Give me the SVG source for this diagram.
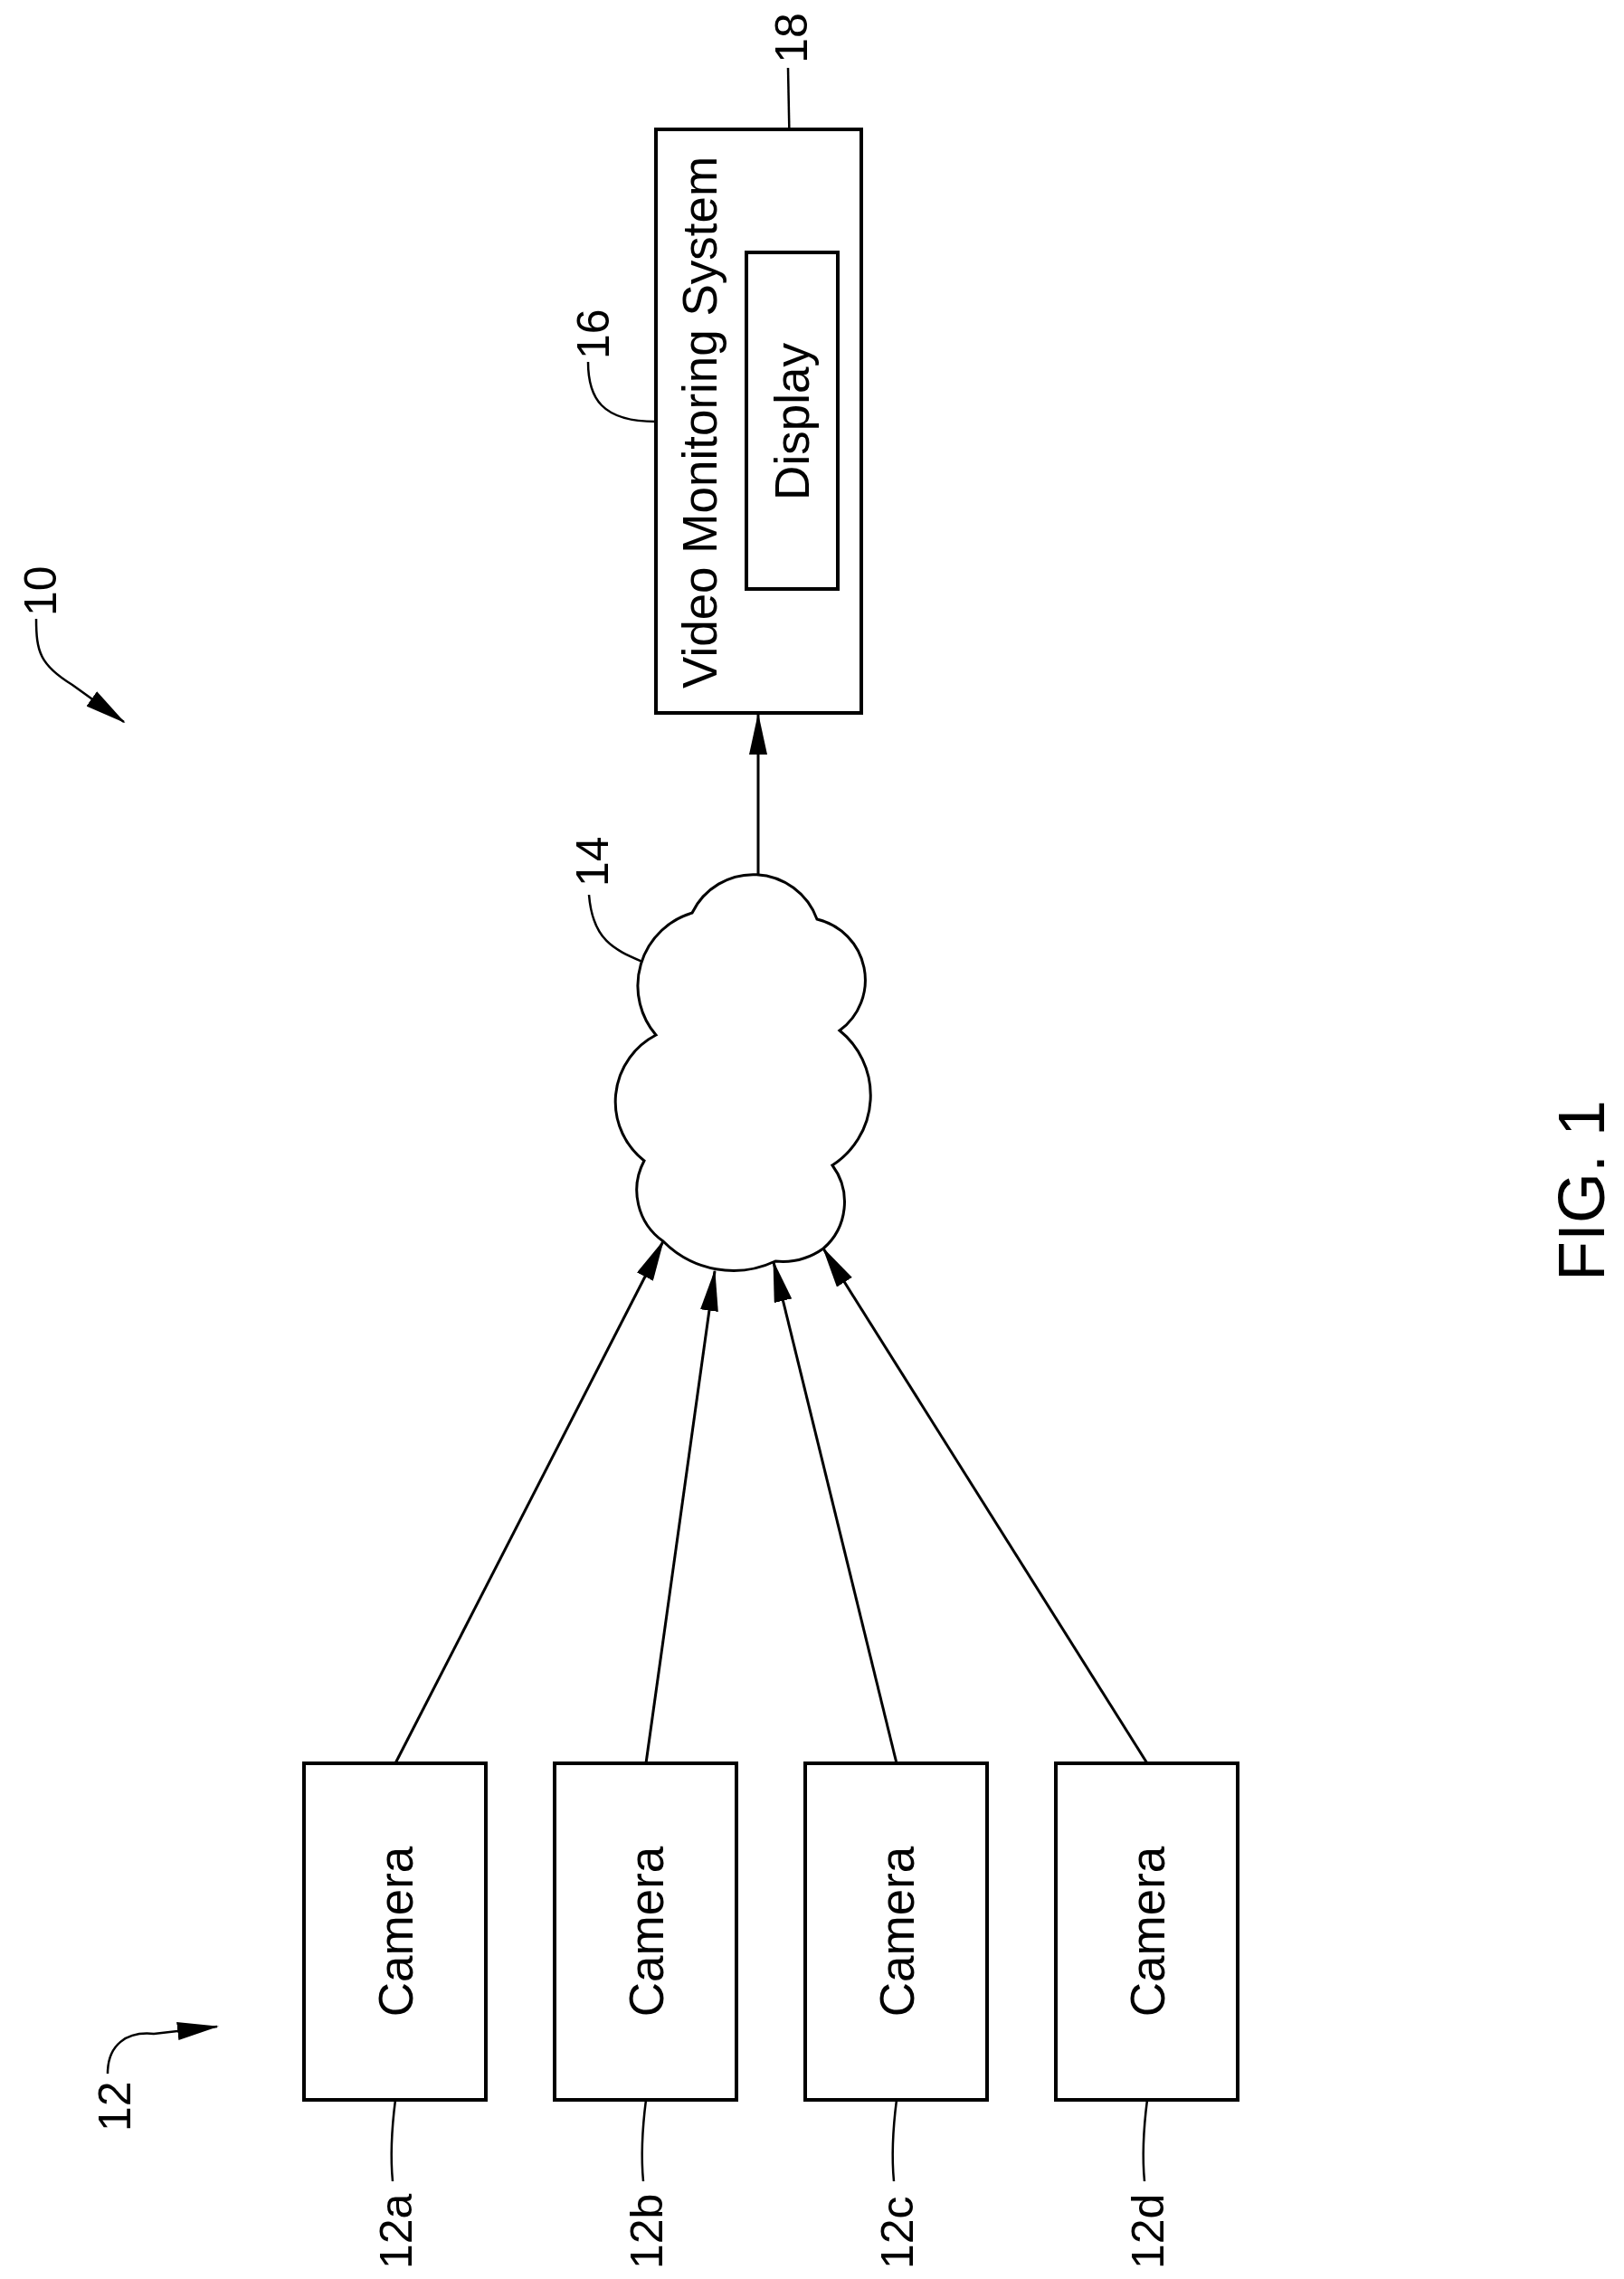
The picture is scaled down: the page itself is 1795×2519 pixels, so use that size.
<svg xmlns="http://www.w3.org/2000/svg" width="1795" height="2519" viewBox="0 0 1795 2519">
<style>
text{font-family:"Liberation Sans",Arial,sans-serif;fill:#000}
.box{fill:#fff;stroke:#000;stroke-width:4}
.ln{fill:none;stroke:#000;stroke-width:3}
.ld{fill:none;stroke:#000;stroke-width:2.5}
.lbl{font-size:50px}
.big{font-size:53px}
</style>
<defs>
<marker id="ah" markerUnits="userSpaceOnUse" markerWidth="46" markerHeight="20" refX="44" refY="10" orient="auto"><path d="M0,0 L46,10 L0,20 Z" fill="#000"/></marker>
</defs>
<rect width="1795" height="2519" fill="#fff"/>
<g id="connectors">
<path class="ln" d="M437,1949 L733,1372" marker-end="url(#ah)"/>
<path class="ln" d="M714,1949 L790,1405" marker-end="url(#ah)"/>
<path class="ln" d="M991,1949 L855,1395" marker-end="url(#ah)"/>
<path class="ln" d="M1268,1949 L910,1380" marker-end="url(#ah)"/>
<path class="ln" d="M838,967 L838,790" marker-end="url(#ah)"/>
<path class="ld" d="M871,75 L875,278" marker-end="url(#ah)"/>
<path class="ld" d="M40,684 C40,720 44,735 80,757 L137,798" marker-end="url(#ah)"/>
<path class="ld" d="M119,2292 C119,2260 140,2245 170,2248 L240,2240" marker-end="url(#ah)"/>
<path class="ld" d="M650,400 C650,440 665,466 725,466"/>
<path class="ld" d="M710,1063 C680,1050 655,1040 651,989"/>
<path class="ld" d="M437,2321 C432,2360 432,2390 434,2411"/>
<path class="ld" d="M714,2321 C709,2360 709,2390 711,2411"/>
<path class="ld" d="M991,2321 C986,2360 986,2390 988,2411"/>
<path class="ld" d="M1268,2321 C1263,2360 1263,2390 1265,2411"/>
</g>
<g id="label10"><text class="lbl" transform="translate(62,681) rotate(-90)">10</text></g>
<g id="label12"><text class="lbl" transform="translate(144,2356) rotate(-90)">12</text></g>
<g id="cam12a"><rect class="box" x="336" y="1949" width="201" height="372"/><text class="big" text-anchor="middle" transform="translate(456,2135) rotate(-90)">Camera</text><text class="lbl" transform="translate(455,2508) rotate(-90)">12a</text></g>
<g id="cam12b"><rect class="box" x="613" y="1949" width="201" height="372"/><text class="big" text-anchor="middle" transform="translate(733,2135) rotate(-90)">Camera</text><text class="lbl" transform="translate(732,2508) rotate(-90)">12b</text></g>
<g id="cam12c"><rect class="box" x="890" y="1949" width="201" height="372"/><text class="big" text-anchor="middle" transform="translate(1010,2135) rotate(-90)">Camera</text><text class="lbl" transform="translate(1009,2508) rotate(-90)">12c</text></g>
<g id="cam12d"><rect class="box" x="1167" y="1949" width="201" height="372"/><text class="big" text-anchor="middle" transform="translate(1287,2135) rotate(-90)">Camera</text><text class="lbl" transform="translate(1286,2508) rotate(-90)">12d</text></g>
<g id="network14">
<path class="ln" fill="#fff" d="M765,1009 A75,75 0 0 1 903,1016 A69,69 0 0 1 928,1139 A92,92 0 0 1 920,1288 A68,68 0 0 1 910,1380 A78,78 0 0 1 857,1394 A109,109 0 0 1 733,1372 A69,69 0 0 1 712,1283 A83,83 0 0 1 725,1144 A84,84 0 0 1 765,1009 Z" style="fill:#fff"/>
<text class="lbl" transform="translate(672,980) rotate(-90)">14</text>
</g>
<g id="vms16">
<rect class="box" x="725" y="143" width="227" height="645"/>
<text class="big" transform="translate(792,761) rotate(-90)">Video Monitoring System</text>
<text class="lbl" transform="translate(673,397) rotate(-90)">16</text>
</g>
<g id="display18">
<rect class="box" x="825" y="279" width="101" height="372"/>
<text class="big" text-anchor="middle" transform="translate(894,466) rotate(-90)">Display</text>
<text class="lbl" text-anchor="middle" transform="translate(892,42) rotate(-90)">18</text>
</g>
<g id="fig"><text style="font-size:72px" text-anchor="middle" transform="translate(1773,1316) rotate(-90)">FIG. 1</text></g>
</svg>
